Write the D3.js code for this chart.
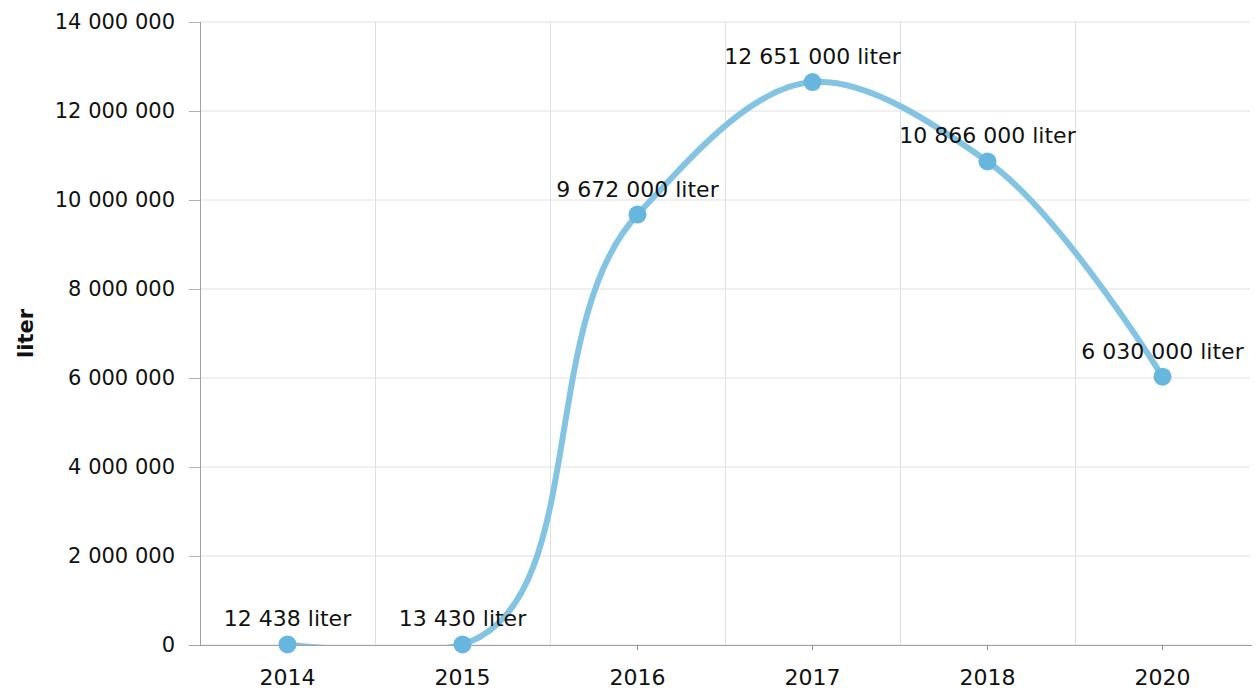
<!DOCTYPE html>
<html>
<head>
<meta charset="utf-8">
<script src="https://cdn.jsdelivr.net/npm/d3@7"></script>
<style>
  body { margin: 0; background: #fff; }
  svg { font-family: "DejaVu Sans", Verdana, sans-serif; }
</style>
</head>
<body>
<div id="chart"></div>
<script>
// chart data
const years = ['2014', '2015', '2016', '2017', '2018', '2020'];
const litres = [12438, 13430, 9672000, 12651000, 10866000, 6030000];
const yTicks = [0, 2000000, 4000000, 6000000, 8000000, 10000000, 12000000, 14000000];
const unit = 'liter';

const width = 1256, height = 693;
const margin = {top: 22, right: 6, bottom: 48, left: 200};
const innerW = width - margin.left - margin.right;
const innerH = height - margin.top - margin.bottom;

const locale = d3.formatLocale({decimal: ',', thousands: ' ', grouping: [3], currency: ['', '']});
const fmt = locale.format(',d');

const svg = d3.select('#chart')
    .append('svg')
    .attr('width', width)
    .attr('height', height);

const g = svg.append('g')
    .attr('transform', `translate(${margin.left},${margin.top})`);

const x = d3.scaleBand().domain(years).range([0, innerW]);
const y = d3.scaleLinear().domain([0, 14000000]).range([innerH, 0]);

// horizontal grid
g.selectAll('.hgrid')
    .data(yTicks)
    .enter()
    .append('line')
    .attr('class', 'hgrid')
    .attr('x1', 0).attr('x2', innerW)
    .attr('y1', d => y(d)).attr('y2', d => y(d))
    .attr('stroke', '#e0e0e0')
    .attr('stroke-width', 1);

// vertical grid at category boundaries
g.selectAll('.vgrid')
    .data(years.slice(1))
    .enter()
    .append('line')
    .attr('class', 'vgrid')
    .attr('x1', d => Math.round(x(d)) + 0.5).attr('x2', d => Math.round(x(d)) + 0.5)
    .attr('y1', 0).attr('y2', innerH)
    .attr('stroke', '#e0e0e0')
    .attr('stroke-width', 1);

// y axis
const yAxis = g.append('g')
    .call(d3.axisLeft(y).tickValues(yTicks).tickFormat(fmt).tickSize(11).tickPadding(14));
yAxis.select('.domain').attr('stroke', '#a0a0a0').attr('d', `M0.5,0V${innerH}`);
yAxis.selectAll('.tick line').attr('stroke', '#b0b0b0');
yAxis.selectAll('text')
    .attr('font-size', '21px')
    .attr('fill', '#111')
    .attr('font-family', '"DejaVu Sans", Verdana, sans-serif');

// x axis, small ticks under each category
const xAxis = g.append('g')
    .attr('transform', `translate(0,${innerH})`)
    .call(d3.axisBottom(x).tickSize(5).tickPadding(19));
xAxis.select('.domain').attr('stroke', '#a0a0a0').attr('d', `M-11,0.5H${innerW + 2}`);
xAxis.selectAll('.tick line').attr('stroke', '#909090');
xAxis.selectAll('text')
    .attr('font-size', '22px')
    .attr('fill', '#111')
    .attr('font-family', '"DejaVu Sans", Verdana, sans-serif');

// y title
svg.append('text')
    .attr('transform', `translate(33,${margin.top + innerH / 2}) rotate(-90)`)
    .attr('text-anchor', 'middle')
    .attr('font-size', '21px')
    .attr('font-weight', 'bold')
    .attr('fill', '#111')
    .text(unit);

// clip to plot area
svg.append('clipPath')
    .attr('id', 'plot-clip')
    .append('rect')
    .attr('width', innerW)
    .attr('height', innerH);

const cx = (d, i) => x(years[i]) + x.bandwidth() / 2;

const line = d3.line()
    .x(cx)
    .y(d => y(d))
    .curve(d3.curveCatmullRom.alpha(1));

g.append('path')
    .datum(litres)
    .attr('clip-path', 'url(#plot-clip)')
    .attr('d', line)
    .attr('fill', 'none')
    .attr('stroke', '#84c4e3')
    .attr('stroke-width', 6)
    .attr('stroke-linecap', 'round');

g.selectAll('.dot')
    .data(litres)
    .enter()
    .append('circle')
    .attr('class', 'dot')
    .attr('cx', cx)
    .attr('cy', d => y(d))
    .attr('r', 9)
    .attr('fill', '#66b6de');

g.selectAll('.value-label')
    .data(litres)
    .enter()
    .append('text')
    .attr('class', 'value-label')
    .attr('x', cx)
    .attr('y', d => y(d) - 18)
    .attr('text-anchor', 'middle')
    .attr('font-size', '22px')
    .attr('fill', '#111')
    .text(d => fmt(d) + ' ' + unit);
</script>
</body>
</html>
